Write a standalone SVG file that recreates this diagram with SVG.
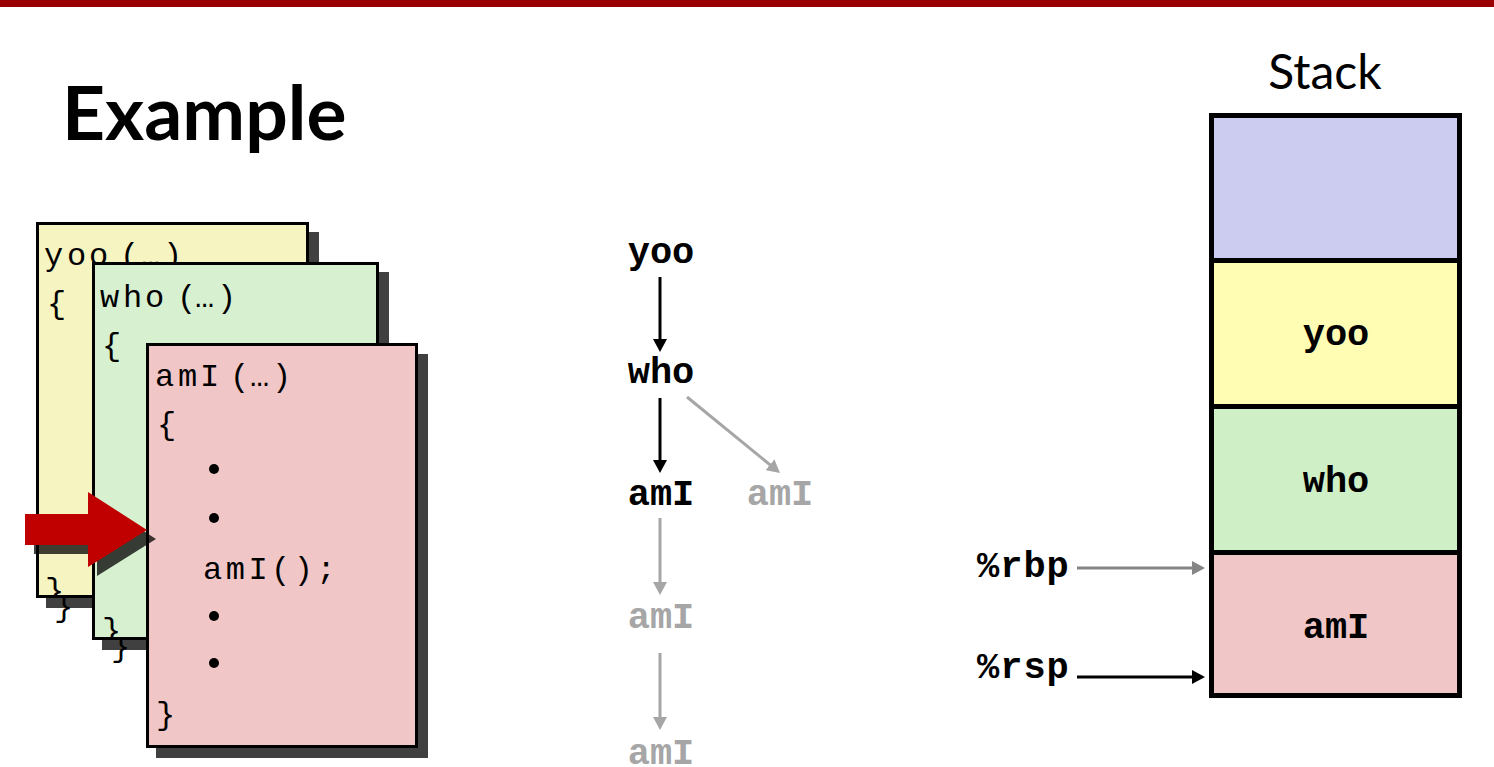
<svg xmlns="http://www.w3.org/2000/svg" width="1494" height="767" viewBox="0 0 1494 767">
<defs>
<style>
.card{stroke:#000;stroke-width:3}
.shadow{fill:#404040}
.code{font-family:"Liberation Mono","Courier New",monospace;font-size:32px;fill:#000}
.lbl{font-family:"Liberation Mono","Courier New",monospace;font-size:37px;font-weight:bold}
.blk{fill:#000}
.gry{fill:#A6A6A6}
.ln{fill:none;stroke-width:3}
.sblk{stroke:#000}
.sgry{stroke:#A6A6A6}
.sreg{stroke:#858585}
.slot{stroke:#000;stroke-width:5}
</style>
<clipPath id="clipY"><rect x="37.5" y="223.5" width="270" height="373"/></clipPath>
<clipPath id="clipG"><rect x="93.5" y="263.5" width="284" height="375"/></clipPath>
<marker id="ahB" markerUnits="userSpaceOnUse" viewBox="0 0 13 14" markerWidth="13" markerHeight="14" refX="1" refY="7" orient="auto"><path d="M0,0 L13,7 L0,14 z" fill="#000"/></marker>
<marker id="ahG" markerUnits="userSpaceOnUse" viewBox="0 0 13 14" markerWidth="13" markerHeight="14" refX="1" refY="7" orient="auto"><path d="M0,0 L13,7 L0,14 z" fill="#A6A6A6"/></marker>
<marker id="ahR" markerUnits="userSpaceOnUse" viewBox="0 0 13 14" markerWidth="13" markerHeight="14" refX="1" refY="7" orient="auto"><path d="M0,0 L13,7 L0,14 z" fill="#858585"/></marker>
</defs>
<rect x="0" y="0" width="1494" height="767" fill="#fff"/>
<rect x="0" y="0" width="1494" height="7" fill="#990000"/>
<text x="62" y="140" font-family="Lato,'Liberation Sans',sans-serif" font-weight="bold" font-size="75" fill="#000">Example</text>

<g id="card-yoo">
<rect class="shadow" x="46" y="232" width="273" height="376"/>
<text x="54" y="616" class="code" fill="#1a1a1a">}</text>
<rect class="card" x="37.5" y="223.5" width="270" height="373" fill="#F6F4C0"/>
<text class="code" y="265" x="44 67 89 120 141 163">yoo(…)</text>
<text class="code" x="47" y="313">{</text>
<text class="code" x="45" y="600" clip-path="url(#clipY)">}</text>
</g>

<g id="card-who">
<rect class="shadow" x="102" y="272" width="287" height="378"/>
<text x="111" y="656" class="code" fill="#1a1a1a">}</text>
<rect class="card" x="93.5" y="263.5" width="284" height="375" fill="#D6F0D0"/>
<text class="code" y="307" x="100 123 145 177 195 217">who(…)</text>
<text class="code" x="102" y="355">{</text>
<text class="code" x="102" y="640" clip-path="url(#clipG)">}</text>
</g>

<g id="card-amI">
<rect class="shadow" x="156" y="354" width="272" height="404"/>
<rect class="card" x="147.5" y="344.5" width="269" height="402" fill="#F0C6C6"/>
<text class="code" y="386" x="155 178 200 230 250 272">amI(…)</text>
<text class="code" x="157" y="434">{</text>
<circle cx="214" cy="469" r="5" fill="#000"/>
<circle cx="214" cy="518" r="5" fill="#000"/>
<text class="code" y="579" x="203 225.7 248.4 271.1 293.8 316.5">amI();</text>
<circle cx="214" cy="616" r="5" fill="#000"/>
<circle cx="214" cy="663" r="5" fill="#000"/>
<text class="code" x="156" y="724">}</text>
</g>

<g id="pc-arrow">
<path d="M34,523 L97,523 L97,501 L156,539 L97,576 L97,554 L34,554 z" fill="#000" fill-opacity="0.75"/>
<path d="M25,514 L88,514 L88,492 L147,530 L88,567 L88,545 L25,545 z" fill="#C00000"/>
</g>

<g id="tree-yoo"><text class="lbl blk" x="661" y="263" text-anchor="middle">yoo</text></g>
<g id="tree-who"><text class="lbl blk" x="661" y="383" text-anchor="middle">who</text></g>
<g id="tree-amI1"><text class="lbl blk" x="661" y="505" text-anchor="middle">amI</text></g>
<g id="tree-amI1b"><text class="lbl gry" x="780" y="505" text-anchor="middle">amI</text></g>
<g id="tree-amI2"><text class="lbl gry" x="661" y="628" text-anchor="middle">amI</text></g>
<g id="tree-amI3"><text class="lbl gry" x="661" y="764" text-anchor="middle">amI</text></g>

<g id="connectors">
<line class="ln sblk" x1="660" y1="277" x2="660" y2="340" marker-end="url(#ahB)"/>
<line class="ln sblk" x1="660" y1="398" x2="660" y2="461" marker-end="url(#ahB)"/>
<line class="ln sgry" x1="687" y1="397" x2="770.7" y2="465.4" marker-end="url(#ahG)"/>
<line class="ln sgry" x1="660" y1="518" x2="660" y2="583" marker-end="url(#ahG)"/>
<line class="ln sgry" x1="660" y1="653" x2="660" y2="718" marker-end="url(#ahG)"/>
<line class="ln sreg" x1="1077" y1="568" x2="1193" y2="568" marker-end="url(#ahR)"/>
<line class="ln sblk" x1="1077" y1="677" x2="1193" y2="677" marker-end="url(#ahB)"/>
</g>

<g id="reg-rbp"><text class="lbl blk" x="977" y="577" font-size="38" letter-spacing="1">%rbp</text></g>
<g id="reg-rsp"><text class="lbl blk" x="977" y="678" font-size="38" letter-spacing="1">%rsp</text></g>

<g id="stack">
<text x="1325" y="89" text-anchor="middle" font-family="Lato,'Liberation Sans',sans-serif" font-size="48" fill="#000">Stack</text>
<g id="stack-top"><rect class="slot" x="1211.5" y="115.5" width="248" height="145" fill="#CCCCF1"/></g>
<g id="stack-yoo"><rect class="slot" x="1211.5" y="260.5" width="248" height="146" fill="#FFFCB4"/>
<text class="lbl blk" x="1336" y="345" text-anchor="middle">yoo</text></g>
<g id="stack-who"><rect class="slot" x="1211.5" y="406.5" width="248" height="146" fill="#CFEFC7"/>
<text class="lbl blk" x="1336" y="492" text-anchor="middle">who</text></g>
<g id="stack-amI"><rect class="slot" x="1211.5" y="552.5" width="248" height="143" fill="#F0C6C6"/>
<text class="lbl blk" x="1336" y="638" text-anchor="middle">amI</text></g>
</g>
</svg>
